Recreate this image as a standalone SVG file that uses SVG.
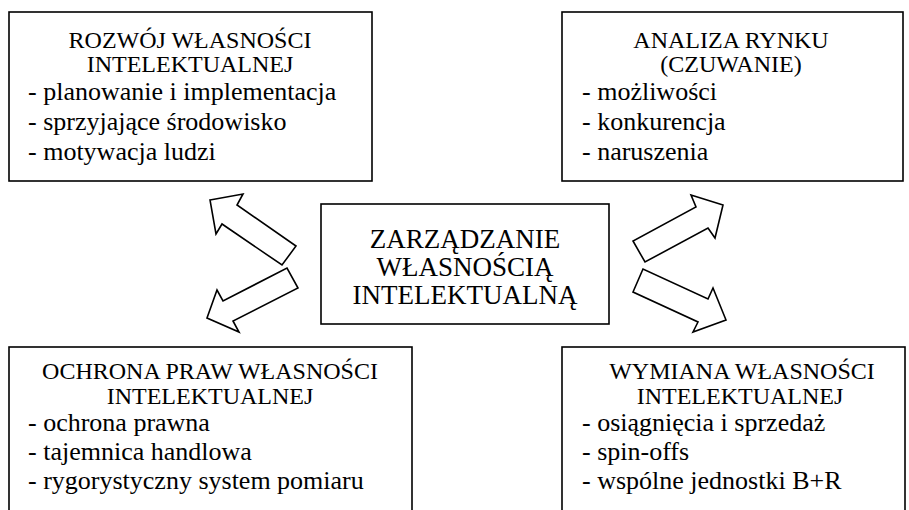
<svg xmlns="http://www.w3.org/2000/svg" width="909" height="510" viewBox="0 0 909 510">
<style>
.box{fill:#fff;stroke:#000;stroke-width:1.6}
.arr{fill:#fff;stroke:#000;stroke-width:1.6;stroke-linejoin:miter}
text{font-family:"Liberation Serif","Times New Roman",serif;fill:#000}
.t{font-size:24px;text-anchor:middle}
.b{font-size:26px}
.c{font-size:27px;text-anchor:middle}
</style>
<rect width="909" height="510" fill="#fff"/>
<g id="rozwoj">
<rect class="box" x="9" y="12" width="363" height="169"/>
<text class="t" x="190" y="48">ROZWÓJ WŁASNOŚCI</text>
<text class="t" x="190" y="72">INTELEKTUALNEJ</text>
<text class="b" x="28" y="100">- planowanie i implementacja</text>
<text class="b" x="28" y="130">- sprzyjające środowisko</text>
<text class="b" x="28" y="160">- motywacja ludzi</text>
</g>
<g id="analiza">
<rect class="box" x="562" y="12" width="341" height="169"/>
<text class="t" x="731" y="48">ANALIZA RYNKU</text>
<text class="t" x="731" y="72">(CZUWANIE)</text>
<text class="b" x="582" y="100">- możliwości</text>
<text class="b" x="582" y="130">- konkurencja</text>
<text class="b" x="582" y="160">- naruszenia</text>
</g>
<g id="zarzadzanie">
<rect class="box" x="321" y="204" width="288" height="120"/>
<text class="c" x="465" y="248">ZARZĄDZANIE</text>
<text class="c" x="465" y="276">WŁASNOŚCIĄ</text>
<text class="c" x="465" y="304">INTELEKTUALNĄ</text>
</g>
<g id="ochrona">
<rect class="box" x="9" y="347" width="403" height="180"/>
<text class="t" x="210" y="379">OCHRONA PRAW WŁASNOŚCI</text>
<text class="t" x="210" y="404">INTELEKTUALNEJ</text>
<text class="b" x="28" y="431">- ochrona prawna</text>
<text class="b" x="28" y="460">- tajemnica handlowa</text>
<text class="b" x="28" y="489">- rygorystyczny system pomiaru</text>
</g>
<g id="wymiana">
<rect class="box" x="562" y="347" width="343" height="180"/>
<text class="t" x="742" y="379">WYMIANA WŁASNOŚCI</text>
<text class="t" x="740" y="404">INTELEKTUALNEJ</text>
<text class="b" x="582" y="431">- osiągnięcia i sprzedaż</text>
<text class="b" x="582" y="460">- spin-offs</text>
<text class="b" x="582" y="489">- wspólne jednostki B+R</text>
</g>
<g id="connectors">
<polygon class="arr" points="210,200 243,194 237,205 296,246 282,265 222,224 216,234"/>
<polygon class="arr" points="207,318 217,290 223,301 287,268 298,288 233,321 239,332"/>
<polygon class="arr" points="723,205 691,195 696,207 633,241 645,262 708,228 715,238"/>
<polygon class="arr" points="726,320 713,288 708,299 643,269 633,292 698,322 693,332"/>
</g>
</svg>
